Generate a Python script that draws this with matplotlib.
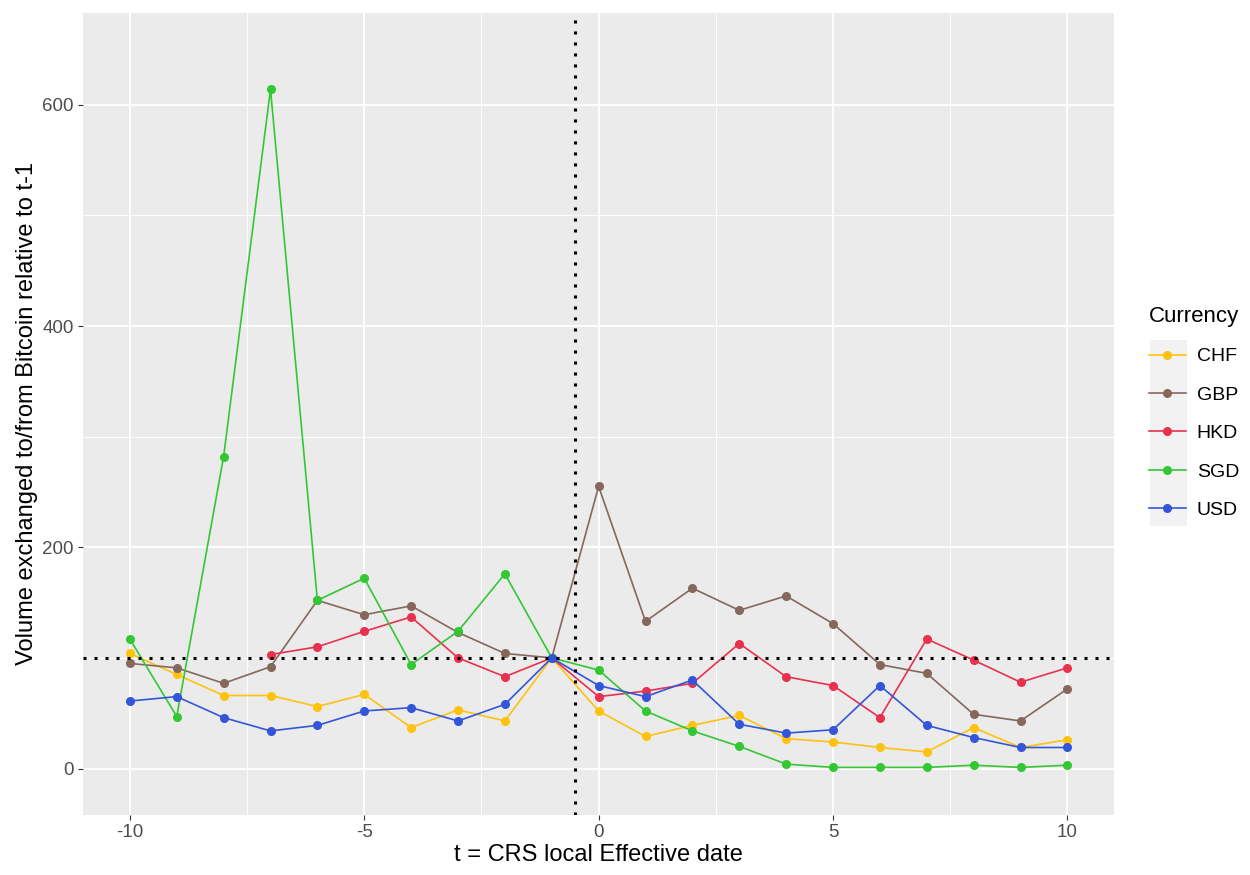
import matplotlib
matplotlib.use("Agg")
import matplotlib.pyplot as plt
from matplotlib.patches import Rectangle
from matplotlib.ticker import MultipleLocator

plt.rcParams["font.family"] = ["Liberation Sans", "DejaVu Sans"]
plt.rcParams["axes.unicode_minus"] = False

t = list(range(-10, 11))

chf = [104, 85, 66, 66, 56, 67, 37, 53, 43, 100,
       52, 29, 39, 48, 27, 24, 19, 15, 37, 19, 26]
gbp = [95, 91, 77, 92, 152, 139, 147, 123, 104, 100,
       255, 133, 163, 143, 156, 131, 94, 86, 49, 43, 72]
hkd_t = list(range(-7, 11))
hkd = [103, 110, 124, 137, 100, 83, 100,
       65, 70, 77, 113, 83, 75, 46, 117, 98, 78, 91]
sgd = [117, 47, 282, 614, 152, 172, 94, 124, 176, 100,
       89, 52, 34, 20, 4, 1, 1, 1, 3, 1, 3]
usd = [61, 65, 46, 34, 39, 52, 55, 43, 58, 100,
       75, 65, 80, 40, 32, 35, 75, 39, 28, 19, 19]

series = [
    ("CHF", t, chf, "#FFC20E"),
    ("GBP", t, gbp, "#86675C"),
    ("HKD", hkd_t, hkd, "#E8314F"),
    ("SGD", t, sgd, "#33C733"),
    ("USD", t, usd, "#3355D9"),
]

fig = plt.figure(figsize=(12.5, 8.75), dpi=100)
ax = fig.add_axes([0.0664, 0.0686, 0.825, 0.9166])
ax.set_facecolor("#EBEBEB")
for s in ax.spines.values():
    s.set_visible(False)

ax.set_xlim(-11, 11)
ax.set_ylim(-42, 683)
ax.xaxis.set_major_locator(MultipleLocator(5))
ax.xaxis.set_minor_locator(MultipleLocator(2.5))
ax.yaxis.set_major_locator(MultipleLocator(200))
ax.yaxis.set_minor_locator(MultipleLocator(100))
ax.grid(which="major", color="white", linewidth=1.3)
ax.grid(which="minor", color="white", linewidth=0.65)
ax.set_axisbelow(True)
ax.tick_params(which="major", length=3.5, color="#333333", labelsize=13.5,
               labelcolor="#4D4D4D", width=0.8, pad=3)
ax.tick_params(which="minor", length=0)

for name, x, y, c in series:
    ax.plot(x, y, color=c, linewidth=1.2, marker="o", markersize=5.5, label=name)

ax.axvline(-0.5, color="black", linestyle=(0, (1, 2.6)), linewidth=2.2)
ax.axhline(100, color="black", linestyle=(0, (1, 2.6)), linewidth=2.2)

ax.set_xlabel("t = CRS local Effective date", fontsize=17, labelpad=2)
ax.set_ylabel("Volume exchanged to/from Bitcoin relative to t-1", fontsize=17, labelpad=3)

# grey key background like ggplot legend keys
fig.patches.append(Rectangle((1150 / 1250, 1 - 526 / 875), 37 / 1250, 186 / 875,
                             transform=fig.transFigure, facecolor="#F2F2F2",
                             edgecolor="none", zorder=-1))

leg = ax.legend(title="Currency", loc="upper left",
                bbox_to_anchor=(1149 / 1250, 1 - 306 / 875),
                bbox_transform=fig.transFigure,
                frameon=False, fontsize=14, title_fontsize=16,
                handlelength=1.9, handletextpad=0.55, labelspacing=1.07,
                borderaxespad=0, borderpad=0)
leg._legend_box.align = "left"

fig.savefig("out.png", dpi=100)
